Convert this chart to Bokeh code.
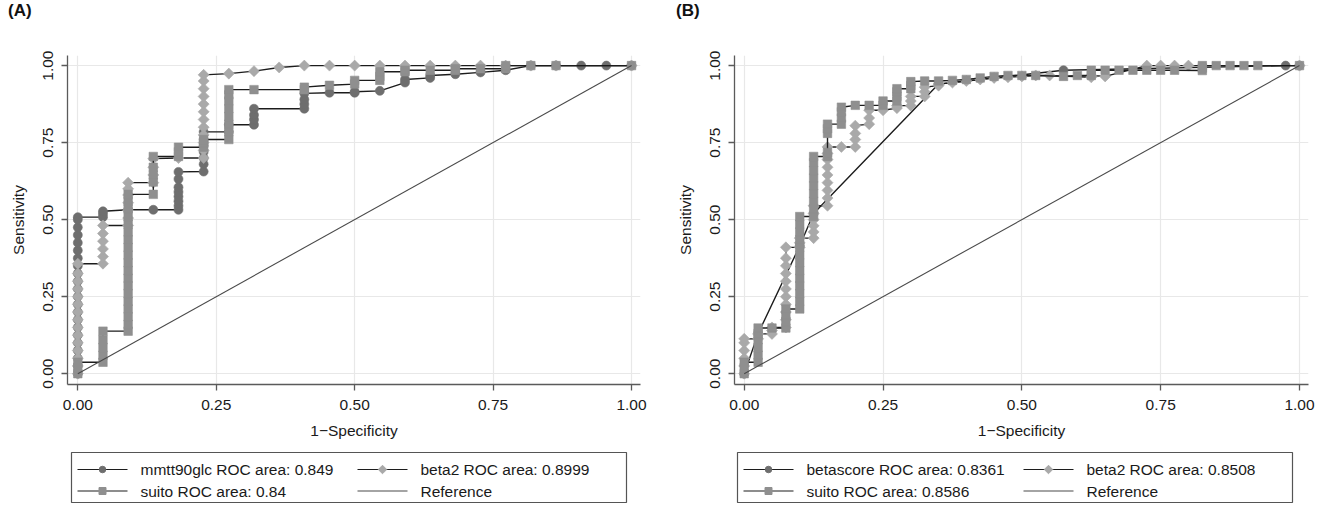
import math
from bokeh.plotting import figure
from bokeh.models import Range1d, FixedTicker, Div
from bokeh.layouts import row, column
from bokeh.core.properties import value
from bokeh.embed import file_html
from bokeh.resources import INLINE

FONT = "Liberation Sans"
TICKS = [0, 0.25, 0.5, 0.75, 1.0]
TICK_LABELS = ["0.00", "0.25", "0.50", "0.75", "1.00"]
X_TITLE = "1\u2212Specificity"
Y_TITLE = "Sensitivity"

# ---------------- Panel A (22 negatives): (false positives, [sensitivities]) ----
A_NNEG = 22
A_MMT = [
    (0, [0, .025, .05, .075, .1, .125, .15, .175, .2, .225, .25, .275, .3, .325, .35,
         .375, .4, .425, .45, .475, .5, .508]),
    (1, [.508, .518, .527]),
    (2, [.532]),
    (3, [.532]),
    (4, [.532, .545, .56, .575, .59, .605, .632, .655]),
    (5, [.656, .68, .70, .72, .74, .76, .785]),
    (6, [.785, .808]),
    (7, [.808, .825, .84, .86]),
    (9, [.86, .875, .89, .91]),
    (10, [.912]),
    (11, [.912, .915]),
    (12, [.918]),
    (13, [.945, .955]),
    (14, [.96, .968]),
    (15, [.972]),
    (16, [.978]),
    (17, [.985]),
    (18, [1.0]),
    (19, [1.0]),
    (20, [1.0]),
    (21, [1.0]),
    (22, [1.0]),
]
A_BETA2 = [
    (0, [0, .025, .05, .075, .1, .125, .15, .175, .2, .225, .25, .275, .3, .325, .357]),
    (1, [.357, .38, .405, .43, .455, .481]),
    (2, [.481, .505, .53, .555, .58, .60, .62]),
    (3, [.62, .645, .67, .698]),
    (4, [.70]),
    (5, [.70, .725, .75, .775, .80, .825, .85, .875, .90, .925, .95, .97]),
    (6, [.974]),
    (7, [.982]),
    (8, [.994]),
    (9, [1.0]), (10, [1.0]), (11, [1.0]), (12, [1.0]), (13, [1.0]), (14, [1.0]),
    (15, [1.0]), (16, [1.0]), (17, [1.0]), (18, [1.0]), (19, [1.0]),
    (22, [1.0]),
]
A_SUITO = [
    (0, [0, .02, .037]),
    (1, [.037, .06, .085, .11, .138]),
    (2, [.138, .16, .185, .21, .235, .26, .285, .31, .335, .36, .385, .41, .435, .46,
         .485, .51, .535, .56, .582]),
    (3, [.582, .622, .645, .67, .705]),
    (4, [.705, .72, .735]),
    (5, [.735, .75, .76]),
    (6, [.76, .785, .81, .835, .86, .885, .905, .922]),
    (7, [.922]),
    (9, [.922, .93]),
    (10, [.936]),
    (11, [.94, .952]),
    (12, [.952, .965, .98]),
    (13, [.98, .985]),
    (14, [.985]),
    (15, [.985, .99]),
    (16, [.99]),
    (17, [.99, 1.0]),
    (18, [1.0]),
    (19, [1.0]),
    (22, [1.0]),
]
A_LABELS = ["mmtt90glc ROC area: 0.849", "beta2 ROC area: 0.8999",
            "suito ROC area: 0.84", "Reference"]

# ---------------- Panel B (40 negatives) ----------------
B_NNEG = 40
B_BETASCORE = [
    (0, [0]), (1, [.13]), (4, [.415]), (5, [.52]), (14, [.94]), (23, [.985]),
    (39, [1.0]), (40, [1.0]),
]
B_BETA2 = [
    (0, [0, .025, .05, .075, .1, .113]),
    (1, [.113, .129]),
    (2, [.129, .14, .15]),
    (3, [.15, .175, .2, .225, .25, .275, .3, .325, .35, .375, .41]),
    (4, [.41, .425, .44]),
    (5, [.44, .46, .48, .5, .52, .545]),
    (6, [.545, .57, .595, .62, .645, .67, .695, .715, .736]),
    (7, [.736]),
    (8, [.736, .76, .78, .805]),
    (9, [.81, .83, .855]),
    (10, [.855]),
    (11, [.862, .87]),
    (12, [.87, .885, .9]),
    (13, [.9, .915, .93]),
    (14, [.935, .94]),
    (15, [.945]),
    (16, [.95]),
    (17, [.955]),
    (18, [.96]),
    (19, [.962]),
    (20, [.965]),
    (21, [.968]),
    (22, [.968]),
    (25, [.962, .968]),
    (26, [.965]),
    (29, [1.0]), (30, [1.0]), (31, [1.0]), (32, [1.0]),
    (40, [1.0]),
]
B_SUITO = [
    (0, [0, .02, .037]),
    (1, [.037, .06, .085, .11, .13, .148]),
    (2, [.148]),
    (3, [.148, .17, .19, .21]),
    (4, [.21, .235, .26, .285, .31, .335, .36, .385, .41, .435, .46, .485, .51]),
    (5, [.51, .535, .56, .585, .61, .635, .66, .685, .705]),
    (6, [.705, .718, .78, .795, .81]),
    (7, [.81, .83, .85, .865]),
    (8, [.871]),
    (9, [.871]),
    (10, [.871, .885]),
    (11, [.885, .9, .915, .925]),
    (12, [.925, .935, .948]),
    (13, [.95]),
    (14, [.95]),
    (15, [.952]),
    (16, [.955]),
    (17, [.96]),
    (18, [.965]),
    (19, [.968]),
    (20, [.968]),
    (21, [.968]),
    (23, [.965]),
    (24, [.968]),
    (25, [.968, .985]),
    (26, [.985]), (27, [.985]), (28, [.985]), (29, [.985]), (30, [.985]), (31, [.985]),
    (33, [.984, .992, 1.0]),
    (34, [1.0]), (35, [1.0]), (36, [1.0]), (37, [1.0]),
    (40, [1.0]),
]
B_LABELS = ["betascore ROC area: 0.8361", "beta2 ROC area: 0.8508",
            "suito ROC area: 0.8586", "Reference"]

# ---------------- styling ----------------
C_CIRCLE = "#6e6e6e"
C_DIAMOND = "#a9a9a9"
C_SQUARE = "#8f8f8f"
C_LINE = "#1c1c1c"
C_REF = "#4a4a4a"
C_AXIS = "#5a5a5a"
C_GRID = "#e8e8e8"
C_TEXT = "#1a1a1a"
FS = "15.5px"

# (marker, size, angle, colour, legend size)
STYLES = [("circle", 9, 0.0, C_CIRCLE, 6.5),
          ("square", 7.8, math.pi / 4, C_DIAMOND, 6.0),
          ("square", 8.5, 0.0, C_SQUARE, 7.0)]

LEFT = 67  # frame left border of every column (pixels)


def expand(cols, n):
    xs, ys = [], []
    for k, yl in cols:
        for y in yl:
            xs.append(k / n)
            ys.append(y)
    return xs, ys


def tick_key(t):
    return int(t) if float(t).is_integer() else t


def strip(width, right, height):
    # x in pixels measured from the column's left edge; frame aligned with the panel
    q = figure(width=width, height=height, output_backend="svg", toolbar_location=None,
               x_range=Range1d(LEFT, width - right), y_range=Range1d(0, height),
               x_axis_location=None, y_axis_location=None,
               min_border_left=LEFT, min_border_right=right, min_border_top=0,
               min_border_bottom=0, background_fill_color="white",
               border_fill_color="white")
    q.outline_line_color = None
    q.grid.visible = False
    return q


def header(width, text, pad):
    return Div(text=text, width=width, height=24,
               styles={"font-family": FONT, "font-size": "17px", "font-weight": "bold",
                       "color": "#111111", "padding-left": f"{pad}px",
                       "line-height": "22px", "margin": "0px"})


def panel(n, series_list, width, right, xr):
    p = figure(width=width, height=422, output_backend="svg", toolbar_location=None,
               x_range=Range1d(*xr), y_range=Range1d(-0.0352, 1.0328),
               min_border_left=LEFT, min_border_right=right,
               min_border_top=31, min_border_bottom=62,
               background_fill_color="white", border_fill_color="white")
    p.outline_line_color = None

    for ax in (p.xaxis[0], p.yaxis[0]):
        ax.ticker = FixedTicker(ticks=TICKS)
        ax.major_label_overrides = {tick_key(t): l for t, l in zip(TICKS, TICK_LABELS)}
        ax.minor_tick_line_color = None
        ax.axis_line_color = C_AXIS
        ax.axis_line_width = 1.3
        ax.major_tick_line_color = C_AXIS
        ax.major_tick_line_width = 1.3
        ax.major_tick_out = 6
        ax.major_tick_in = 0
        ax.major_label_text_font = FONT
        ax.major_label_text_font_size = FS
        ax.major_label_text_color = C_TEXT
        ax.axis_label_text_font = FONT
        ax.axis_label_text_font_size = FS
        ax.axis_label_text_font_style = "normal"
        ax.axis_label_text_color = C_TEXT
    p.xaxis.axis_label = X_TITLE
    p.yaxis.axis_label = Y_TITLE
    p.xaxis.major_label_standoff = 9
    p.xaxis.axis_label_standoff = 9
    p.yaxis.major_label_standoff = 8
    p.yaxis.axis_label_standoff = 14
    p.yaxis.major_label_orientation = "vertical"
    p.xgrid.ticker = FixedTicker(ticks=TICKS)
    p.ygrid.ticker = FixedTicker(ticks=TICKS)
    p.xgrid.grid_line_color = C_GRID
    p.ygrid.grid_line_color = C_GRID
    p.xgrid.grid_line_width = 1.2
    p.ygrid.grid_line_width = 1.2

    for cols, (marker, size, angle, color, _) in zip(series_list, STYLES):
        xs, ys = expand(cols, n)
        p.line(xs, ys, line_color=C_LINE, line_width=1.4)
        p.scatter(xs, ys, marker=marker, size=size, angle=angle,
                  fill_color=color, line_color=color, line_width=0.6)
    p.line([0, 1], [0, 1], line_color=C_REF, line_width=1.1)
    return p


def legend_fig(width, right, box_left, labels):
    H = 58
    q = strip(width, right, H)
    bl = box_left
    q.quad(left=[bl], right=[bl + 555], bottom=[2], top=[52],
           fill_color="white", line_color="#555555", line_width=1.2)
    rows_y = [35, 13.5]
    slots = [(0, 0), (1, 0), (0, 1), (1, 1)]  # (column, row) in reading order
    for i, lab in enumerate(labels):
        c, r = slots[i]
        x0 = bl + 6 + 280 * c
        y = rows_y[r]
        lc = C_LINE if i < 3 else C_REF
        q.line([x0, x0 + 50], [y, y], line_color=lc, line_width=1.2)
        if i < 3:
            marker, _, angle, color, lsize = STYLES[i]
            q.scatter([x0 + 25], [y], marker=marker, size=lsize, angle=angle,
                      fill_color=color, line_color=color)
        q.text([x0 + 63], [y], text=[lab], text_font=value(FONT),
               text_font_size=FS, text_color=C_TEXT, text_baseline="middle",
               text_align="left")
    return q


WA, RA = 667, 27
WB, RB = 655, 14
pA = panel(A_NNEG, [A_MMT, A_BETA2, A_SUITO], WA, RA, (-0.0186, 1.0162))
pB = panel(B_NNEG, [B_BETASCORE, B_BETA2, B_SUITO], WB, RB, (-0.0175, 1.0162))

colA = column(header(WA, "(A)", 8), pA, legend_fig(WA, RA, 71, A_LABELS), spacing=0)
colB = column(header(WB, "(B)", 9), pB, legend_fig(WB, RB, 70, B_LABELS), spacing=0)

layout = row(colA, colB, spacing=0)
open("out.html", "w").write(file_html(layout, INLINE))
